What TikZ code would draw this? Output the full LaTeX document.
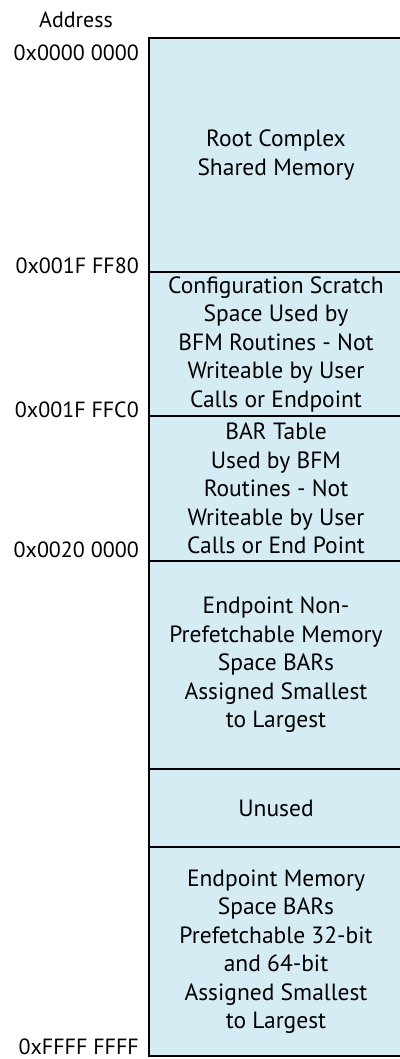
\documentclass[tikz,border=0pt]{standalone}
\usepackage{fontspec}
\setmainfont{PT Sans}
\usepackage{xcolor}
\usepackage{tikz}
\usetikzlibrary{positioning}
\definecolor{memblue}{RGB}{214,236,245}

\begin{document}
\begin{tikzpicture}[
    node distance=0pt,
    region/.style={rectangle, draw=black, line width=1.3pt, fill=memblue, minimum width=254pt, outer sep=0pt, inner sep=0pt, align=center, font=\fontsize{23.5}{28.5}\selectfont},
    addr/.style={anchor=base east, inner sep=0pt, font=\fontsize{22}{28}\selectfont}
]
    \useasboundingbox (0,0) rectangle (399pt,-1059pt);

    % memory regions, top to bottom
    \node[region, minimum height=234pt, anchor=north west] (root) at (149pt,-38pt) {Root Complex\\Shared Memory};
    \node[region, minimum height=144pt, below=of root] (scratch) {Configuration Scratch\\Space Used by\\BFM Routines - Not\\Writeable by User\\Calls or Endpoint};
    \node[region, minimum height=145pt, below=of scratch] (bartable) {BAR Table\\Used by BFM\\Routines - Not\\Writeable by User\\Calls or End Point};
    \node[region, minimum height=208pt, below=of bartable] (nonpref) {Endpoint Non-\\Prefetchable Memory\\Space BARs\\Assigned Smallest\\to Largest};
    \node[region, minimum height=78pt, below=of nonpref] (unused) {Unused};
    \node[region, minimum height=209pt, below=of unused] (prefetch) {Endpoint Memory\\Space BARs\\Prefetchable 32-bit\\and 64-bit\\Assigned Smallest\\to Largest};

    % outer border
    \draw[line width=2pt] (root.north east) -- (root.north west) -- (prefetch.south west) -- (prefetch.south east);

    % address labels
    \node[addr, anchor=base] (head) at (76pt,-28pt) {Address};
    \node[addr] (a0) at ([xshift=-10pt, yshift=-23pt]root.north west) {0x0000 0000};
    \node[addr] (a1) at ([xshift=-10pt, yshift=-1pt]root.south west) {0x001F FF80};
    \node[addr] (a2) at ([xshift=-10pt, yshift=-1pt]scratch.south west) {0x001F FFC0};
    \node[addr] (a3) at ([xshift=-10pt, yshift=4pt]bartable.south west) {0x0020 0000};
    \node[addr] (a4) at ([xshift=-10pt, yshift=1.5pt]prefetch.south west) {0xFFFF FFFF};
\end{tikzpicture}
\end{document}
